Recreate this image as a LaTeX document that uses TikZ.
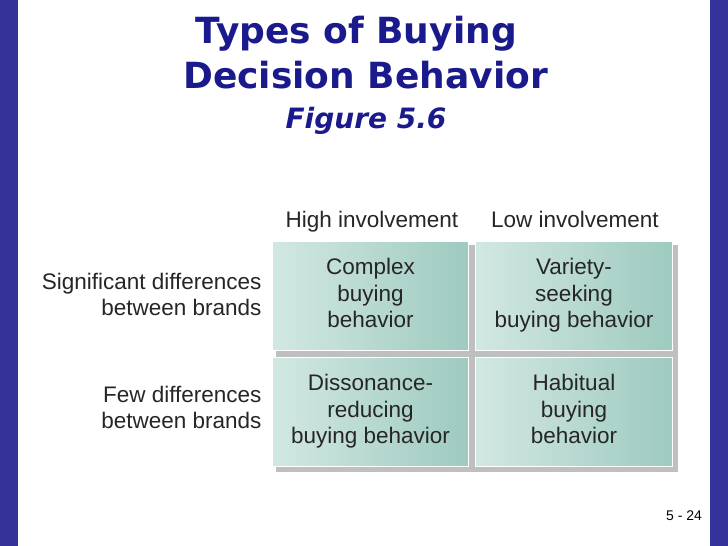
\documentclass[tikz,border=0pt]{standalone}
\usepackage{fontspec}
\setmainfont{Liberation Sans}
\newfontfamily\verd{DejaVu Sans}
\begin{document}
\begin{tikzpicture}[x=1pt,y=-1pt,
  cell/.style={draw=white,line width=1pt,left color=cellA,right color=cellB},
  ctext/.style={align=center,font=\fontsize{22.5}{26.5}\selectfont,text=black!85},
  ltext/.style={align=right,anchor=east,font=\fontsize{22.5}{26.5}\selectfont,text=black!85}]
\definecolor{barblue}{HTML}{333399}
\definecolor{ttl}{HTML}{1A1A8C}
\definecolor{cellA}{HTML}{D2E8E2}
\definecolor{cellB}{HTML}{9ECAC0}
\useasboundingbox (0,0) rectangle (728,546);
\fill[white] (0,0) rectangle (728,546);
\fill[barblue] (0,0) rectangle (18,546);
\fill[barblue] (710,0) rectangle (728,546);
\node[font=\verd\bfseries\fontsize{36}{45}\selectfont,text=ttl,align=left,anchor=north west,inner sep=0] (title) at (183,16) {\ Types of Buying\\Decision Behavior};
\node[font=\verd\bfseries\itshape\fontsize{28}{32}\selectfont,text=ttl] (fig) at (366,121) {Figure 5.6};
\fill[black!25] (276,245) rectangle (678,472);
\node[cell,minimum width=196,minimum height=109,anchor=north west] (c1) at (272,241) {};
\node[cell,minimum width=197,minimum height=109,anchor=north west] (c2) at (475,241) {};
\node[cell,minimum width=196,minimum height=109,anchor=north west] (c3) at (272,357) {};
\node[cell,minimum width=197,minimum height=109,anchor=north west] (c4) at (475,357) {};
\node[ctext] at (c1) {\strut Complex\\\strut buying\\\strut behavior};
\node[ctext] at (c2) {\strut Variety-\\\strut seeking\\\strut buying behavior};
\node[ctext] at (c3) {\strut Dissonance-\\\strut reducing\\\strut buying behavior};
\node[ctext] at (c4) {\strut Habitual\\\strut buying\\\strut behavior};
\node[ctext] (h1) at (372,222) {\strut High involvement};
\node[ctext] (h2) at (575,222) {\strut Low involvement};
\node[ltext] (r1) at (265,297) {\strut Significant differences\\\strut between brands};
\node[ltext] (r2) at (265,410) {\strut Few differences\\\strut between brands};
\node[font=\fontsize{14}{16}\selectfont] (pg) at (684,516) {5 - 24};
\end{tikzpicture}
\end{document}
